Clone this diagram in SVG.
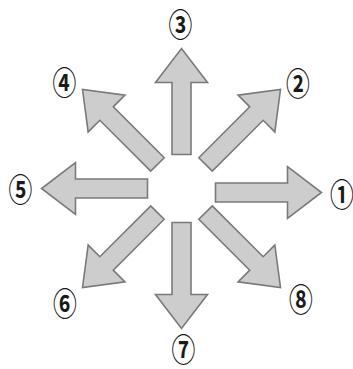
<svg xmlns="http://www.w3.org/2000/svg" width="353" height="369" viewBox="0 0 353 369">
<defs>
<style>
.arr{fill:#cdcdcd;stroke:#7a7a7a;stroke-width:1.6;stroke-linejoin:miter}
.lbl{font-family:"Noto Sans CJK JP","DejaVu Sans",sans-serif;font-size:28px;font-weight:700;fill:#1a1a1a;text-anchor:middle;dominant-baseline:central}
</style>
<path id="a" d="M34,-9.5 L106,-9.5 L106,-26 L140,0 L106,26 L106,9.5 L34,9.5 Z"/>
</defs>
<rect width="353" height="369" fill="#fff"/>
<g id="connectors">
<use href="#a" class="arr" transform="translate(181.5,192.5)"/>
<use href="#a" class="arr" transform="translate(181.5,188.5) rotate(-45)"/>
<use href="#a" class="arr" transform="translate(181.5,188.5) rotate(-90)"/>
<use href="#a" class="arr" transform="translate(181.5,188.5) rotate(-135)"/>
<use href="#a" class="arr" transform="translate(181.5,188.5) rotate(180)"/>
<use href="#a" class="arr" transform="translate(181.5,188.5) rotate(135)"/>
<use href="#a" class="arr" transform="translate(181.5,188.5) rotate(90)"/>
<use href="#a" class="arr" transform="translate(181.5,188.5) rotate(45)"/>
</g>
<g id="n1"><text class="lbl" transform="translate(342,193) scale(0.85,1.1)">①</text></g>
<g id="n2"><text class="lbl" transform="translate(298,81.5) scale(0.85,1.1)">②</text></g>
<g id="n3"><text class="lbl" transform="translate(180.5,23) scale(0.85,1.1)">③</text></g>
<g id="n4"><text class="lbl" transform="translate(64.5,81) scale(0.85,1.1)">④</text></g>
<g id="n5"><text class="lbl" transform="translate(20.5,187.5) scale(0.85,1.1)">⑤</text></g>
<g id="n6"><text class="lbl" transform="translate(65,301.5) scale(0.85,1.1)">⑥</text></g>
<g id="n7"><text class="lbl" transform="translate(183.5,347.5) scale(0.85,1.1)">⑦</text></g>
<g id="n8"><text class="lbl" transform="translate(301,297.5) scale(0.85,1.1)">⑧</text></g>
</svg>
